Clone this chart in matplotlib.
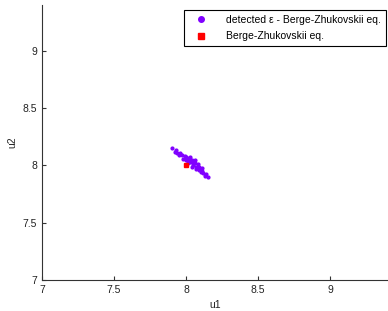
import matplotlib
matplotlib.use("Agg")
import matplotlib.pyplot as plt

# detected eps - Berge-Zhukovskii equilibria
u1 = [7.90, 7.93, 7.96, 7.99, 8.02, 8.05, 8.08, 8.11, 8.14,
      7.92, 7.95, 7.98, 8.01, 8.04, 8.07, 8.10, 8.13, 8.155,
      7.97, 8.00, 8.03, 8.05, 8.06, 8.08, 8.04, 8.02, 8.07, 8.09,
      8.11, 7.94, 8.06, 8.03, 8.00, 8.12, 7.96, 8.05, 8.09, 8.01]
u2 = [8.15, 8.135, 8.11, 8.085, 8.065, 8.04, 8.01, 7.975, 7.925,
      8.12, 8.09, 8.06, 8.02, 7.99, 7.965, 7.94, 7.91, 7.895,
      8.09, 8.05, 8.03, 8.00, 8.02, 7.98, 8.05, 8.04, 7.99, 7.96,
      7.95, 8.11, 8.05, 8.07, 8.07, 7.93, 8.10, 8.02, 7.99, 8.04]

# Berge-Zhukovskii equilibrium
bz_u1 = [8.0]
bz_u2 = [8.0]

xticks = [7, 7.5, 8, 8.5, 9]
yticks = [7, 7.5, 8, 8.5, 9]

plt.rcParams['font.family'] = ['Liberation Sans', 'DejaVu Sans']
plt.rcParams['font.size'] = 7.5

fig = plt.figure(figsize=(3.88, 3.11), dpi=100)
ax = fig.add_axes([0.108, 0.0997, 0.892, 0.884])

ax.plot(u1, u2, 'o', color='#8000ff', markersize=2, linestyle='none',
        label='detected \u03b5 - Berge-Zhukovskii eq.')
ax.plot(bz_u1, bz_u2, 's', color='#ff0000', markersize=2.5, linestyle='none',
        label='Berge-Zhukovskii eq.')

ax.set_xlim(7, 9.4)
ax.set_ylim(7, 9.4)
ax.set_xticks(xticks)
ax.set_yticks(yticks)
ax.set_xticklabels(['7', '7.5', '8', '8.5', '9'])
ax.set_yticklabels(['7', '7.5', '8', '8.5', '9'])
ax.tick_params(direction='in', length=3, colors='#333333', labelcolor='#222222')
ax.spines['top'].set_visible(False)
ax.spines['right'].set_visible(False)
ax.spines['left'].set_color('#333333')
ax.spines['bottom'].set_color('#333333')
ax.set_xlabel('u1', color='#222222')
ax.set_ylabel('u2', color='#222222')

leg = ax.legend(loc='upper right', fancybox=False, framealpha=1, edgecolor='black',
                borderpad=0.45, labelspacing=0.65, handletextpad=1.2, handlelength=2.4,
                markerscale=2.0, borderaxespad=0, bbox_to_anchor=(0.994, 0.982))
leg.get_frame().set_linewidth(0.8)

plt.savefig("out.png")
